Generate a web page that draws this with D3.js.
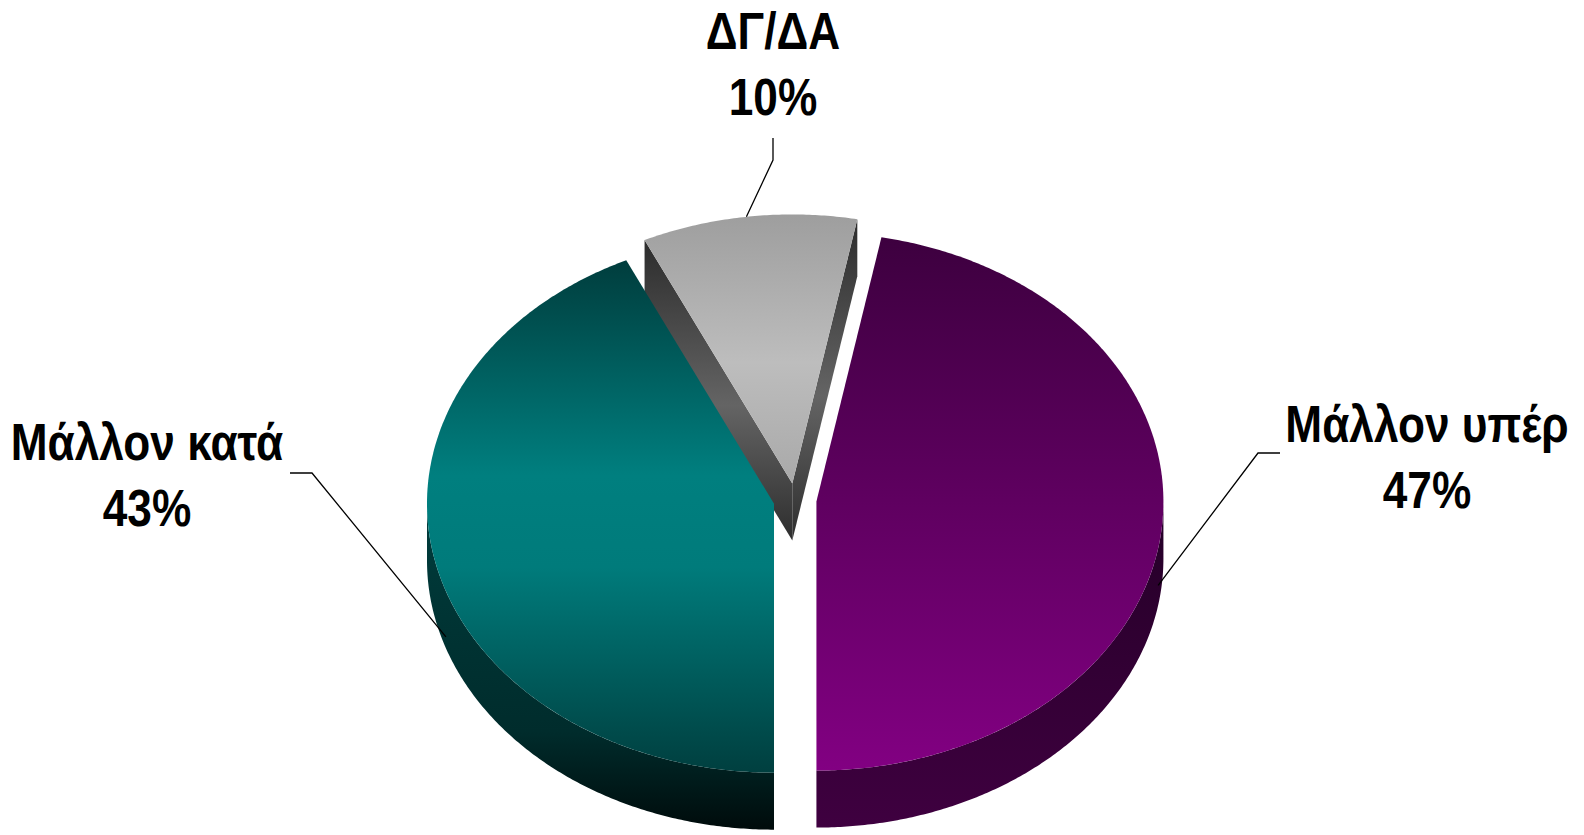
<!DOCTYPE html>
<html>
<head>
<meta charset="utf-8">
<script src="https://cdn.jsdelivr.net/npm/d3@7"></script>
<style>
  html, body { margin: 0; padding: 0; background: #fff; }
  svg { display: block; }
  .lbl { font-family: "Liberation Sans Narrow", "Arial Narrow", "Liberation Sans", sans-serif; font-weight: bold; font-size: 52px; fill: #000; }
</style>
</head>
<body>
<svg id="chart"></svg>
<script>
// data
const categories = ["Μάλλον υπέρ", "Μάλλον κατά", "ΔΓ/ΔΑ"];
const values = [47, 43, 10];
const valueLabels = ["47%", "43%", "10%"];

const width = 1584, height = 835;
const deg = Math.PI / 180;

// 3d pie layout
const pieGeo = {cx: 795, cy: 500, rx: 347, ry: 269, depth: 57, explode: 0.062, start: 10.8 * deg};

// colours for each slice: top face, outer wall, radial walls
const styles = [
  {top: [[0, "#3d003f"], [1, "#820082"]], wall: [[0, "#240027"], [1, "#3f0040"]], side: [[0, "#2e2e2e"], [1, "#333"]]},
  {top: [[0, "#003d3d"], [0.42, "#007f7f"], [0.6, "#007b7b"], [1, "#003f3f"]], wall: [[0, "#003c3c"], [0.7, "#002c2c"], [1, "#000b0b"]], side: [[0, "#2e2e2e"], [1, "#333"]]},
  {top: [[0, "#9e9e9e"], [0.55, "#bdbdbd"], [1, "#a9a9a9"]], wall: [[0, "#555"], [1, "#333"]], side: [[0, "#2c2c2c"], [0.55, "#646464"], [1, "#2e2e2e"]]}
];

// label layout: text centre, first baseline, elbow, anchor angle on pie, anchor height on side
const labelLayout = [
  {x: 1427, y: 442, ex: 1258, ey: 453, sx: 1280, sy: 453, angle: 100, h: 0.65},
  {x: 147, y: 460, ex: 312, ey: 473, sx: 290, sy: 473, angle: 251, h: 0.8},
  {x: 773, y: 49, ex: 773, ey: 160, sx: 773, sy: 138, angle: 352.4, h: 0}
];
const narrow = 0.85; // no narrow font installed, squeeze the bold sans

const svg = d3.select("#chart").attr("width", width).attr("height", height);
const defs = svg.append("defs");

const pie = d3.pie().sort(null).value(d => d)
  .startAngle(pieGeo.start).endAngle(pieGeo.start + 2 * Math.PI);
const arcs = pie(values);

// project an angle / radius / height of the disk onto the screen
function proj(a, r, h, off) {
  return [
    pieGeo.cx + off[0] + r * pieGeo.rx * Math.sin(a),
    pieGeo.cy + off[1] - r * pieGeo.ry * Math.cos(a) + h * pieGeo.depth
  ];
}

function arcPoints(a0, a1, h, off) {
  const n = Math.max(2, Math.ceil(Math.abs(a1 - a0) / (0.5 * deg)));
  return d3.range(n + 1).map(i => proj(a0 + (a1 - a0) * i / n, 1, h, off));
}

const line = d3.line().curve(d3.curveLinearClosed);

function gradient(id, stops, pts) {
  const ys = pts.map(p => p[1]);
  const g = defs.append("linearGradient").attr("id", id)
    .attr("gradientUnits", "userSpaceOnUse")
    .attr("x1", 0).attr("x2", 0)
    .attr("y1", d3.min(ys)).attr("y2", d3.max(ys));
  g.selectAll("stop").data(stops).join("stop")
    .attr("offset", d => d[0]).attr("stop-color", d => d[1]);
  return `url(#${id})`;
}

const slices = arcs.map((d, i) => {
  const mid = (d.startAngle + d.endAngle) / 2;
  const off = [pieGeo.explode * pieGeo.rx * Math.sin(mid), -pieGeo.explode * pieGeo.ry * Math.cos(mid)];
  return {d, i, mid, off};
});

// far slices first
slices.sort((a, b) => Math.cos(b.mid) - Math.cos(a.mid));

const g = svg.append("g");

slices.forEach(s => {
  const {d, i, off} = s;
  const st = styles[i];
  const a0 = d.startAngle, a1 = d.endAngle;
  const c0 = proj(0, 0, 0, off), c1 = proj(0, 0, 1, off);

  // radial walls
  const walls = [];
  if (Math.sin(a0) < -1e-6) walls.push(a0);
  if (Math.sin(a1) > 1e-6) walls.push(a1);
  walls.forEach((a, k) => {
    const pts = [c0, proj(a, 1, 0, off), proj(a, 1, 1, off), c1];
    g.append("path").attr("d", line(pts))
      .attr("fill", gradient(`side${i}_${k}`, st.side, pts));
  });

  // outer wall, only the front half is visible
  const lo = Math.max(a0, Math.PI / 2), hi = Math.min(a1, 3 * Math.PI / 2);
  if (hi > lo) {
    const pts = arcPoints(lo, hi, 0, off).concat(arcPoints(hi, lo, 1, off));
    g.append("path").attr("d", line(pts))
      .attr("fill", gradient(`wall${i}`, st.wall, pts));
  }

  // top face
  const top = [c0].concat(arcPoints(a0, a1, 0, off));
  g.append("path").attr("d", line(top))
    .attr("fill", gradient(`top${i}`, st.top, top));
});

// labels and leader lines
const lab = svg.append("g");
arcs.forEach((d, i) => {
  const L = labelLayout[i];
  const s = slices.find(x => x.i === i);
  const p = proj(L.angle * deg, 1, L.h, s.off);
  lab.append("path")
    .attr("d", d3.line()([[L.sx, L.sy], [L.ex, L.ey], p]))
    .attr("fill", "none").attr("stroke", "#000").attr("stroke-width", 1.3);
  const t = lab.append("text").attr("class", "lbl").attr("text-anchor", "middle")
    .attr("transform", `translate(${L.x},0) scale(${narrow},1)`);
  t.append("tspan").attr("x", 0).attr("y", L.y).text(categories[i]);
  t.append("tspan").attr("x", 0).attr("y", L.y + 66).text(valueLabels[i]);
});
</script>
</body>
</html>
